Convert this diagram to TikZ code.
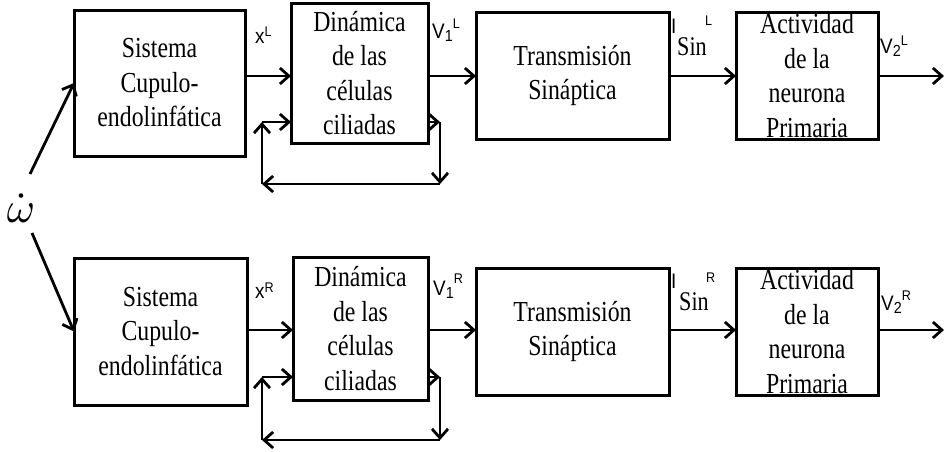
\documentclass[tikz,border=0pt]{standalone}
\usepackage{fontspec}
\setmainfont{Liberation Serif}
\newfontfamily\boxfont[FakeStretch=0.82]{Liberation Serif}
\newfontfamily\lblfont[FakeStretch=0.9]{Liberation Sans}
\usetikzlibrary{arrows.meta}
\newcommand\lblsup[2]{\raisebox{#1}{\fontsize{14}{14}\selectfont #2}}
\newcommand\lblsub[2]{\raisebox{#1}{\fontsize{16}{16}\selectfont #2}}
\begin{document}
\begin{tikzpicture}[x=1pt,y=-1pt,
  box/.style={draw, line width=3pt, inner sep=0pt, outer sep=0pt},
  txt/.style={font={\boxfont\fontsize{29}{34.5}\selectfont}, align=center, inner sep=0pt},
  arr/.style={-{Straight Barb[length=9pt,width=16pt]}, line width=2.8pt},
  lbl/.style={font={\lblfont\fontsize{21}{21}\selectfont}, inner sep=0pt, anchor=base west},
  sinlbl/.style={font={\boxfont\fontsize{27}{27}\selectfont}, inner sep=0pt, anchor=base west},
]
\useasboundingbox (0,0) rectangle (944,451);

% ---------- top row ----------
\node[box, minimum width=171pt, minimum height=146pt] (s1) at (159.5,83) {};
\node[box, minimum width=137pt, minimum height=140pt] (d1) at (359.5,73) {};
\node[box, minimum width=193pt, minimum height=127pt] (t1) at (572.5,75.5) {};
\node[box, minimum width=142pt, minimum height=127pt] (a1) at (807,75.5) {};
\node[txt] (s1t) at (s1.center) {Sistema\\Cupulo-\\endolinfática};
\node[txt] (d1t) at (d1.center) {Dinámica\\de las\\células\\ciliadas};
\node[txt] (t1t) at (t1.center) {Transmisión\\Sináptica};
\node[txt] (a1t) at (a1.center) {Actividad\\de la\\neurona\\Primaria};

\coordinate (r1) at (0,76);
\coordinate (o1) at (944,76);
\draw[arr] (s1.east|-r1) -- (d1.west|-r1);
\draw[arr] (d1.east|-r1) -- (t1.west|-r1);
\draw[arr] (t1.east|-r1) -- (a1.west|-r1);
\draw[arr] (a1.east|-r1) -- (o1);

\coordinate (lt1) at (262,122);
\coordinate (lb1) at (262,184);
\coordinate (rt1) at (440,122);
\coordinate (rb1) at (440,184);
\draw[arr] (d1.east|-rt1) -- (rt1);
\draw[arr] (rt1) -- (rb1);
\draw[arr] (rb1) -- (lb1);
\draw[arr] (lb1) -- (lt1);
\draw[arr] (lt1) -- (d1.west|-lt1);

\node[lbl] (xL) at (255,43) {x\lblsup{7pt}{L}};
\node[lbl] (v1L) at (432,38) {V\lblsub{-3pt}{1}\lblsup{10pt}{L}};
\node[lbl] (iL) at (671,33) {I};
\node[sinlbl] (sinL) at (677,55) {Sin};
\node[lbl, font={\lblfont\fontsize{14}{14}\selectfont}] (supL) at (705,25) {L};
\node[lbl] (v2L) at (880,53) {V\lblsub{-3pt}{2}\lblsup{8pt}{L}};

% ---------- bottom row ----------
\node[box, minimum width=173pt, minimum height=147pt] (s2) at (160.5,331.5) {};
\node[box, minimum width=135pt, minimum height=143pt] (d2) at (360.5,328.5) {};
\node[box, minimum width=193pt, minimum height=127pt] (t2) at (572.5,331.5) {};
\node[box, minimum width=142pt, minimum height=127pt] (a2) at (807,331.5) {};
\node[txt] (s2t) at (s2.center) {Sistema\\Cupulo-\\endolinfática};
\node[txt] (d2t) at (d2.center) {Dinámica\\de las\\células\\ciliadas};
\node[txt] (t2t) at (t2.center) {Transmisión\\Sináptica};
\node[txt] (a2t) at (a2.center) {Actividad\\de la\\neurona\\Primaria};

\coordinate (r2) at (0,330);
\coordinate (o2) at (944,330);
\draw[arr] (s2.east|-r2) -- (d2.west|-r2);
\draw[arr] (d2.east|-r2) -- (t2.west|-r2);
\draw[arr] (t2.east|-r2) -- (a2.west|-r2);
\draw[arr] (a2.east|-r2) -- (o2);

\coordinate (lt2) at (262,377);
\coordinate (lb2) at (262,440);
\coordinate (rt2) at (440,377);
\coordinate (rb2) at (440,440);
\draw[arr] (d2.east|-rt2) -- (rt2);
\draw[arr] (rt2) -- (rb2);
\draw[arr] (rb2) -- (lb2);
\draw[arr] (lb2) -- (lt2);
\draw[arr] (lt2) -- (d2.west|-lt2);

\node[lbl] (xR) at (255,298) {x\lblsup{6pt}{R}};
\node[lbl] (v1R) at (433,295) {V\lblsub{-3pt}{1}\lblsup{12pt}{R}};
\node[lbl] (iR) at (671,288) {I};
\node[sinlbl] (sinR) at (679,310) {Sin};
\node[lbl, font={\lblfont\fontsize{14}{14}\selectfont}] (supR) at (706,282) {R};
\node[lbl] (v2R) at (881,310) {V\lblsub{-3pt}{2}\lblsup{10pt}{R}};

% ---------- omega input ----------
\node[anchor=base, inner sep=0pt] (w) at (21,222) {\scalebox{4.3}{$\dot{\omega}$}};
\coordinate (wt) at (30,174);
\coordinate (wb) at (32,233);
\draw[arr] (wt) -- (s1.west);
\draw[arr] (wb) -- (s2.west);
\end{tikzpicture}
\end{document}
